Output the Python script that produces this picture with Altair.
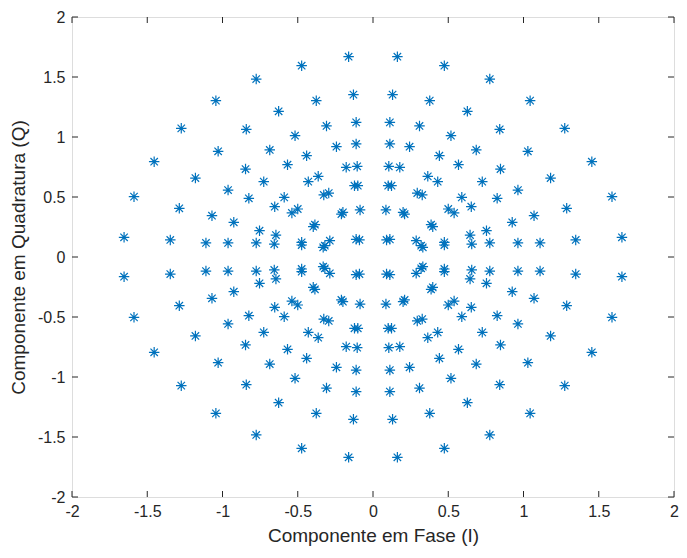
import altair as alt
import pandas as pd

# First-quadrant constellation points (I, Q); the chart is mirror-symmetric in I and Q
q1_I = [0.162, 0.474, 0.776, 1.044, 1.274, 1.454, 1.588, 1.654,
        0.130, 0.377, 0.627, 0.842, 1.029, 1.180, 1.287, 1.347,
        0.112, 0.309, 0.518, 0.686, 0.847, 0.963, 1.070, 1.110,
        0.112, 0.243, 0.441, 0.568, 0.726, 0.825, 0.925, 0.963,
        0.105, 0.178, 0.364, 0.430, 0.590, 0.653, 0.754, 0.776,
        0.101, 0.123, 0.294, 0.327, 0.500, 0.539, 0.645, 0.656,
        0.086, 0.200, 0.210, 0.386, 0.397, 0.474, 0.474,
        0.090, 0.112, 0.287, 0.320, 0.331]
q1_Q = [1.669, 1.594, 1.483, 1.303, 1.072, 0.794, 0.503, 0.164,
        1.353, 1.303, 1.214, 1.064, 0.881, 0.658, 0.406, 0.142,
        1.122, 1.092, 1.011, 0.892, 0.733, 0.558, 0.344, 0.117,
        0.942, 0.919, 0.844, 0.769, 0.628, 0.489, 0.289, 0.117,
        0.756, 0.747, 0.672, 0.628, 0.497, 0.419, 0.219, 0.117,
        0.594, 0.594, 0.533, 0.517, 0.400, 0.367, 0.183, 0.108,
        0.392, 0.372, 0.358, 0.269, 0.253, 0.122, 0.100,
        0.142, 0.147, 0.136, 0.094, 0.081]
quadrant_signs = [(1, 1), (-1, 1), (1, -1), (-1, -1)]
tick_values = [-2, -1.5, -1, -0.5, 0, 0.5, 1, 1.5, 2]

rows = []
for sx, sy in quadrant_signs:
    for i, q in zip(q1_I, q1_Q):
        rows.append({"I": sx * i, "Q": sy * q})
df = pd.DataFrame(rows)
ticks_df = pd.DataFrame({"v": tick_values})

W, H = 602, 480
FONT = "Liberation Sans"
AX = "#262626"
star = ("M-1,0L1,0M0,-1L0,1M-0.7071,-0.7071L0.7071,0.7071"
        "M-0.7071,0.7071L0.7071,-0.7071")

xs = alt.Scale(domain=[-2, 2], nice=False, zero=False)
ys = alt.Scale(domain=[-2, 2], nice=False, zero=False)

x_axis = alt.Axis(
    values=tick_values, title="Componente em Fase (I)", grid=False,
    ticks=False, domain=False, labelExpr="'' + datum.value",
    labelFont=FONT, labelFontSize=16, labelColor=AX, labelPadding=6,
    titleFont=FONT, titleFontSize=19, titleFontWeight="normal",
    titleColor=AX, titlePadding=7, labelFlush=False)
y_axis = alt.Axis(
    values=tick_values, title="Componente em Quadratura (Q)", grid=False,
    ticks=False, domain=False, labelExpr="'' + datum.value",
    labelFont=FONT, labelFontSize=16, labelColor=AX, labelPadding=7,
    titleFont=FONT, titleFontSize=19, titleFontWeight="normal",
    titleColor=AX, titlePadding=9, labelFlush=False)

points = alt.Chart(df).mark_point(
    shape=star, filled=False, size=110, strokeWidth=1.2,
    color="#0072BD", opacity=1
).encode(
    x=alt.X("I:Q", scale=xs, axis=x_axis),
    y=alt.Y("Q:Q", scale=ys, axis=y_axis),
)

tl = 6
bottom_t = alt.Chart(ticks_df).mark_rule(color=AX, strokeWidth=1).encode(
    x=alt.X("v:Q", scale=xs, axis=x_axis), y=alt.value(H), y2=alt.value(H - tl))
top_t = alt.Chart(ticks_df).mark_rule(color=AX, strokeWidth=1).encode(
    x=alt.X("v:Q", scale=xs, axis=x_axis), y=alt.value(0), y2=alt.value(tl))
left_t = alt.Chart(ticks_df).mark_rule(color=AX, strokeWidth=1).encode(
    y=alt.Y("v:Q", scale=ys, axis=y_axis), x=alt.value(0), x2=alt.value(tl))
right_t = alt.Chart(ticks_df).mark_rule(color=AX, strokeWidth=1).encode(
    y=alt.Y("v:Q", scale=ys, axis=y_axis), x=alt.value(W), x2=alt.value(W - tl))

chart = alt.layer(points, bottom_t, top_t, left_t, right_t).properties(
    width=W, height=H,
    autosize=alt.AutoSizeParams(type="none"),
    padding={"left": 64, "top": 9, "right": 5, "bottom": 53},
).configure_view(stroke=AX, strokeWidth=1).configure(background="white")

chart.save("out.html", embed_options={"renderer": "svg", "actions": False})
